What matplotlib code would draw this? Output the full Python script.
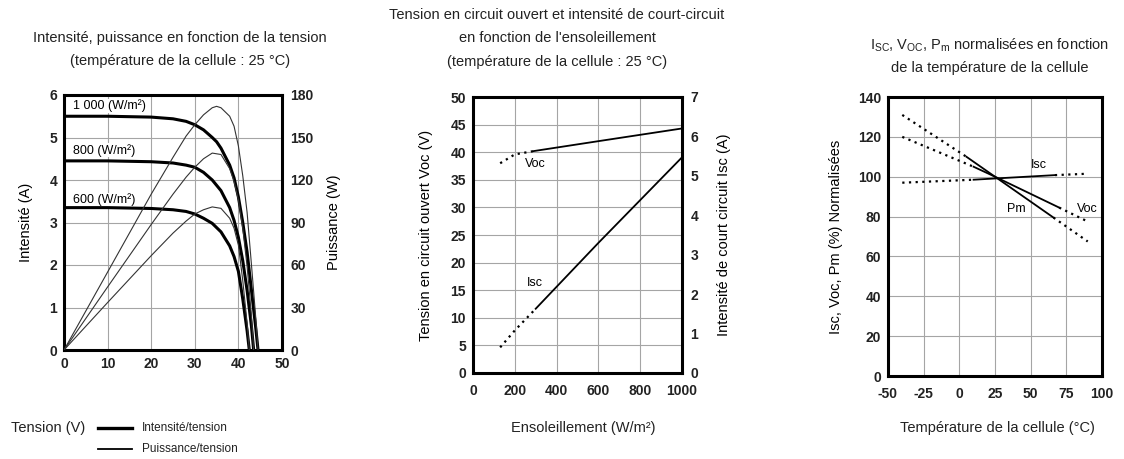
import matplotlib
matplotlib.use('Agg')
import matplotlib.pyplot as plt

plt.rcParams['font.family'] = ['Liberation Sans', 'DejaVu Sans']
plt.rcParams['mathtext.default'] = 'regular'
plt.rcParams['axes.unicode_minus'] = False

NARROW = ['Liberation Sans Narrow', 'Liberation Sans', 'DejaVu Sans']

# --- chart 1 : I-V and P-V curves (cell at 25 C) ---
v_1000 = [0, 10, 20, 25, 28, 30, 32, 34, 35, 36, 38, 39, 40, 41, 42, 43, 44, 44.5]
i_1000 = [5.5, 5.5, 5.48, 5.44, 5.38, 5.3, 5.18, 5.0, 4.9, 4.75, 4.35, 4.05, 3.6, 3.0, 2.3, 1.4, 0.5, 0]
p_1000 = [0, 55, 110, 136, 151, 159, 166, 171, 172, 171, 165, 158, 144, 123, 97, 60, 22, 0]

v_800 = [0, 10, 20, 25, 28, 30, 32, 34, 36, 38, 39, 40, 41, 42, 43, 43.5]
i_800 = [4.45, 4.45, 4.43, 4.4, 4.35, 4.3, 4.18, 4.0, 3.75, 3.35, 3.05, 2.65, 2.1, 1.4, 0.55, 0]
p_800 = [0, 44.5, 88.6, 110, 122, 129, 135, 139, 138, 128, 119, 106, 86, 59, 24, 0]

v_600 = [0, 10, 20, 25, 28, 30, 32, 34, 36, 38, 39, 40, 41, 42, 42.5]
i_600 = [3.35, 3.35, 3.33, 3.3, 3.26, 3.2, 3.1, 2.98, 2.78, 2.45, 2.2, 1.85, 1.2, 0.45, 0]
p_600 = [0, 33.5, 66.6, 82.5, 91, 96, 99, 101, 100, 93, 86, 74, 49, 19, 0]

irr_labels = ['1 000 (W/m²)', '800 (W/m²)', '600 (W/m²)']
irr_label_y = [5.74, 4.7, 3.53]

# --- chart 2 : Voc and Isc vs irradiance ---
g_voc_dot = [130, 200, 290]
voc_dot = [38.0, 39.6, 40.2]
g_voc = [290, 600, 1000]
voc = [40.2, 42.0, 44.3]
g_isc_dot = [130, 200, 300]
isc_dot = [0.65, 1.08, 1.63]
g_isc = [300, 600, 1000]
isc = [1.63, 3.3, 5.47]

# --- chart 3 : normalised Isc, Voc, Pm vs temperature ---
t_isc_a, isc_a = [-40, 10], [97, 98.5]
t_isc_b, isc_b = [10, 67], [98.5, 100.8]
t_isc_c, isc_c = [67, 90], [100.8, 101.5]
t_voc_a, voc_a = [-40, 10], [120, 105]
t_voc_b, voc_b = [10, 25, 70], [105, 100, 84.5]
t_voc_c, voc_c = [70, 90], [84.5, 77.5]
t_pm_a, pm_a = [-40, 5], [131, 110]
t_pm_b, pm_b = [5, 25, 66], [110, 100, 79.5]
t_pm_c, pm_c = [66, 90], [79.5, 67.5]

W, H = 1124, 459
fig = plt.figure(figsize=(W / 100, H / 100), dpi=100)


def px_axes(l, r, t, b):
    return fig.add_axes([l / W, (H - b) / H, (r - l) / W, (b - t) / H])


def bold_ticks(ax):
    for lab in ax.get_xticklabels() + ax.get_yticklabels():
        lab.set_fontweight('bold')


def style(ax):
    for s in ax.spines.values():
        s.set_linewidth(2.2)
    ax.tick_params(length=0, labelsize=10, pad=5, colors='#222222')
    ax.grid(True, color='#a5a5a5', lw=0.8)
    ax.set_axisbelow(True)


def ftext(x, y, s, size=10.5, ha='center', **kw):
    fig.text(x / W, 1 - y / H, s, ha=ha, va='center', fontsize=size,
             family=NARROW, color='#222222', **kw)


dot = (0, (1, 2))

# chart 1
ax1 = px_axes(64, 282, 95, 350)
style(ax1)
ax1.set_xlim(0, 50)
ax1.set_ylim(0, 6)
ax1.set_xticks([0, 10, 20, 30, 40, 50])
ax1.set_yticks(range(7))
ax1.set_ylabel('Intensité (A)', fontsize=10.5)
ax1.yaxis.set_label_coords(-0.142, 0.5)
for v, i in [(v_1000, i_1000), (v_800, i_800), (v_600, i_600)]:
    ax1.plot(v, i, color='black', lw=2.2, zorder=4)
for lab, y in zip(irr_labels, irr_label_y):
    ax1.text(2.0, y, lab, fontsize=9, va='center', ha='left', zorder=2.5,
             bbox=dict(facecolor='white', edgecolor='none', pad=0.5))
ax1b = ax1.twinx()
ax1b.set_ylim(0, 180)
ax1b.set_yticks(range(0, 181, 30))
ax1b.tick_params(length=0, labelsize=10, pad=6, colors='#222222')
for s in ax1b.spines.values():
    s.set_visible(False)
for v, p in [(v_1000, p_1000), (v_800, p_800), (v_600, p_600)]:
    ax1b.plot(v, p, color='#333333', lw=0.8, zorder=3)
ax1b.set_ylabel('Puissance (W)', fontsize=10.5)
ax1b.yaxis.set_label_coords(1.206, 0.5)
bold_ticks(ax1)
bold_ticks(ax1b)

ftext(180, 38, 'Intensité, puissance en fonction de la tension')
ftext(180, 61, '(température de la cellule : 25 °C)')
ftext(48, 428, 'Tension (V)')
fig.add_artist(plt.Line2D([98 / W, 132 / W], [1 - 428 / H] * 2, color='black', lw=2.4))
fig.add_artist(plt.Line2D([98 / W, 132 / W], [1 - 449 / H] * 2, color='black', lw=1.3))
ftext(142, 428, 'Intensité/tension', size=8.5, ha='left')
ftext(142, 449, 'Puissance/tension', size=8.5, ha='left')

# chart 2
ax2 = px_axes(473, 682, 97, 373)
style(ax2)
ax2.set_xlim(0, 1000)
ax2.set_ylim(0, 50)
ax2.set_xticks(range(0, 1001, 200))
ax2.set_yticks(range(0, 51, 5))
ax2.tick_params(axis='x', pad=8)
ax2.plot(g_voc_dot, voc_dot, color='black', lw=1.6, ls=dot)
ax2.plot(g_voc, voc, color='black', lw=1.3)
ax2.set_ylabel('Tension en circuit ouvert Voc (V)', fontsize=10.5)
ax2.yaxis.set_label_coords(-0.19, 0.5)
ax2.text(300, 37.8, 'Voc', fontsize=9, ha='center', va='center')
ax2b = ax2.twinx()
ax2b.set_ylim(0, 7)
ax2b.set_yticks(range(8))
ax2b.tick_params(length=0, labelsize=10, pad=6, colors='#222222')
for s in ax2b.spines.values():
    s.set_visible(False)
ax2b.plot(g_isc_dot, isc_dot, color='black', lw=1.6, ls=dot)
ax2b.plot(g_isc, isc, color='black', lw=1.3)
ax2b.text(295, 2.27, 'Isc', fontsize=9, ha='center', va='center')
ax2b.set_ylabel('Intensité de court circuit Isc (A)', fontsize=10.5)
ax2b.yaxis.set_label_coords(1.167, 0.5)
bold_ticks(ax2)
bold_ticks(ax2b)

ftext(557, 15, 'Tension en circuit ouvert et intensité de court-circuit')
ftext(557, 38, "en fonction de l'ensoleillement")
ftext(557, 62, '(température de la cellule : 25 °C)')
ftext(583, 428, 'Ensoleillement (W/m²)')

# chart 3
ax3 = px_axes(888, 1102, 97, 376)
style(ax3)
ax3.set_xlim(-50, 100)
ax3.set_ylim(0, 140)
ax3.set_xticks([-50, -25, 0, 25, 50, 75, 100])
ax3.set_xticklabels(['-50', '-25', '0', '25', '50', '75', '100'])
ax3.set_yticks(range(0, 141, 20))
ax3.tick_params(axis='x', pad=8)
for t, y in [(t_isc_a, isc_a), (t_isc_c, isc_c), (t_voc_a, voc_a), (t_voc_c, voc_c),
             (t_pm_a, pm_a), (t_pm_c, pm_c)]:
    ax3.plot(t, y, color='black', lw=1.6, ls=dot)
for t, y in [(t_isc_b, isc_b), (t_voc_b, voc_b), (t_pm_b, pm_b)]:
    ax3.plot(t, y, color='black', lw=1.3)
ax3.text(56, 106, 'Isc', fontsize=9, ha='center', va='center')
ax3.text(40, 84, 'Pm', fontsize=9, ha='center', va='center')
ax3.text(90, 84, 'Voc', fontsize=9, ha='center', va='center')
ax3.set_ylabel('Isc, Voc, Pm (%) Normalisées', fontsize=10.5)
ax3.yaxis.set_label_coords(-0.21, 0.5)
bold_ticks(ax3)

ftext(990, 45, r'I$_{SC}$, V$_{OC}$, P$_{m}$ normalisées en fonction')
ftext(990, 68, 'de la température de la cellule')
ftext(997, 428, 'Température de la cellule (°C)')

fig.savefig('out.png', dpi=100, facecolor='white')
